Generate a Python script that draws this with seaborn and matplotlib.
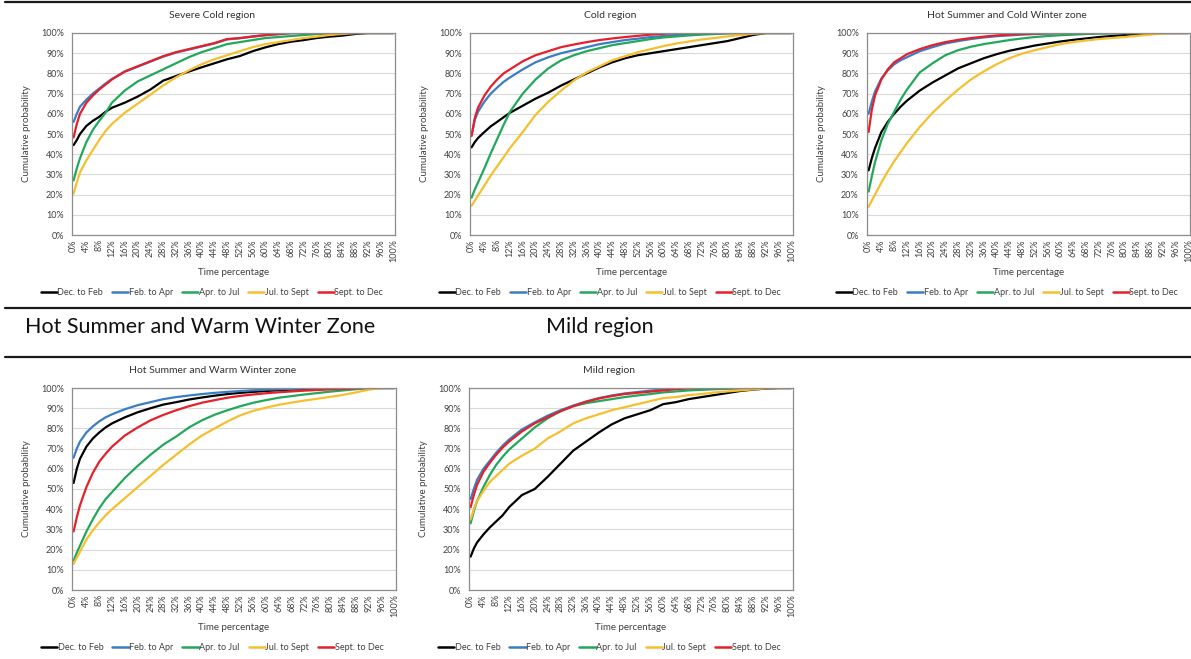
import numpy as np
import pandas as pd
import matplotlib
matplotlib.use("Agg")
import matplotlib.pyplot as plt
from matplotlib.lines import Line2D
import seaborn as sns

sns.set_theme(style="white")
plt.rcParams['font.family'] = ['Lato', 'DejaVu Sans']

# ---------------- data ----------------
time_pct = [0, 1, 2, 4, 6, 8, 10, 12, 16, 20, 24, 28, 32, 36, 40, 44, 48, 52, 56, 60,
            64, 68, 72, 76, 80, 84, 88, 92, 96, 100]
periods = ["Dec. to Feb", "Feb. to Apr", "Apr. to Jul", "Jul. to Sept", "Sept. to Dec"]
colors = ["#000000", "#3b7dc4", "#22a85a", "#f5bf2e", "#e5202a"]
x_ticks = list(range(0, 101, 4))
y_ticks = list(range(0, 101, 10))

# Severe Cold region
sc_dec_feb = [44.5, 47, 50, 54, 56.5, 58.5, 61, 63, 65.5, 68.5, 72, 76.4, 78.7, 80.9, 83, 85, 87, 88.6, 91, 92.9,
              94.5, 95.7, 96.5, 97.5, 98.2, 98.7, 99.5, 100, 100, 100]
sc_feb_apr = [56, 60, 63.5, 67, 70, 72.5, 75, 77.3, 80.8, 83.3, 85.8, 88.3, 90.3, 91.8, 93.3, 94.8, 96.8, 97.4, 98.2, 98.9,
              99.4, 99.9, 100, 100, 100, 100, 100, 100, 100, 100]
sc_apr_jul = [27, 33, 38, 46, 52, 56.5, 60.5, 65.5, 71.5, 76, 79, 82, 85, 88, 90.5, 92.5, 94.5, 95.5, 96.5, 97.5,
              98, 98.5, 99, 99.5, 99.7, 100, 100, 100, 100, 100]
sc_jul_sep = [20.5, 26, 31, 37, 42, 47, 51.5, 55, 60.5, 65, 69.5, 74, 78, 81.5, 84.5, 87, 89, 91, 93, 94.5,
              95.5, 96.5, 97.5, 98.2, 99, 99.5, 100, 100, 100, 100]
sc_sep_dec = [48.3, 55, 60, 65.5, 69, 72, 74.5, 77, 81, 83.5, 86, 88.5, 90.5, 92, 93.5, 95, 97, 97.5, 98.3, 99,
              99.5, 100, 100, 100, 100, 100, 100, 100, 100, 100]

# Cold region
c_dec_feb = [43.4, 46, 48, 51, 53.8, 56, 58.3, 60.5, 64, 67.5, 70.5, 74, 77, 80, 83, 85.5, 87.5, 89, 90, 91,
             92, 93, 94, 95, 96, 97.5, 99, 100, 100, 100]
c_feb_apr = [49.5, 57, 61, 66, 70, 73, 75.8, 78, 82, 85.5, 88, 90, 91.5, 93, 94.5, 95.5, 96.5, 97.2, 98, 98.5,
             99, 99.3, 99.6, 99.8, 100, 100, 100, 100, 100, 100]
c_apr_jul = [18.5, 22.5, 26, 33, 40.5, 47.5, 54.5, 61, 70, 77, 82.5, 86.5, 89, 91, 92.5, 94, 95, 96, 97, 97.8,
             98.3, 98.8, 99.2, 99.5, 99.8, 100, 100, 100, 100, 100]
c_jul_sep = [14.5, 17, 19.5, 24.5, 29.5, 34, 38.5, 43, 51, 59.5, 66, 71.5, 76.5, 80.5, 83.5, 86.5, 88.5, 90.5, 92, 93.5,
             94.8, 95.8, 96.8, 97.5, 98.3, 99, 99.6, 100, 100, 100]
c_sep_dec = [49, 58, 63, 69, 73.5, 77, 80, 82, 86, 89, 91, 93, 94.3, 95.5, 96.5, 97.3, 98, 98.6, 99.2, 99.6,
             100, 100, 100, 100, 100, 100, 100, 100, 100, 100]

# Hot Summer and Cold Winter zone
hscw_dec_feb = [32, 38, 43, 51, 56, 60, 63.5, 66.5, 71.5, 75.5, 79, 82.5, 85, 87.5, 89.5, 91.2, 92.5, 93.8, 94.8, 95.8,
                96.6, 97.3, 98, 98.5, 99, 99.5, 99.8, 100, 100, 100]
hscw_feb_apr = [60, 66, 71, 77.5, 81.5, 84.5, 86.5, 88, 91, 93, 94.8, 96, 97, 97.8, 98.4, 98.8, 99.2, 99.5, 99.7, 99.9,
                100, 100, 100, 100, 100, 100, 100, 100, 100, 100]
hscw_apr_jul = [21.5, 29, 36, 47, 55, 61, 67, 72, 80.5, 85, 89, 91.5, 93.2, 94.5, 95.5, 96.5, 97.3, 98, 98.5, 98.9,
                99.2, 99.5, 99.7, 99.8, 100, 100, 100, 100, 100, 100]
hscw_jul_sep = [14, 17, 20, 26, 31.5, 36.5, 41, 45.5, 53.5, 60.5, 66.5, 72, 77, 81, 84.5, 87.5, 89.8, 91.5, 93, 94.5,
                95.5, 96.3, 97, 97.5, 98, 98.6, 99.2, 99.8, 100, 100]
hscw_sep_dec = [51, 62, 69, 77, 82, 85.5, 87.5, 89.5, 92, 94, 95.5, 96.6, 97.5, 98.2, 98.8, 99.2, 99.5, 99.7, 99.9, 100,
                100, 100, 100, 100, 100, 100, 100, 100, 100, 100]

# Hot Summer and Warm Winter zone
hsww_dec_feb = [53, 60, 65, 71, 75, 78, 80.5, 82.5, 85.5, 88, 90, 91.8, 93, 94.3, 95.3, 96.2, 97, 97.6, 98.1, 98.5,
                98.9, 99.2, 99.5, 99.7, 99.9, 100, 100, 100, 100, 100]
hsww_feb_apr = [65.5, 70, 73.5, 78, 81, 83.5, 85.5, 87, 89.5, 91.5, 93, 94.5, 95.5, 96.3, 97, 97.6, 98.1, 98.5, 98.9, 99.2,
                99.4, 99.6, 99.8, 99.9, 100, 100, 100, 100, 100, 100]
hsww_apr_jul = [14.5, 18.5, 22, 29, 35, 40.5, 45, 48.5, 55.5, 61.5, 67, 72, 76, 80.5, 84, 86.8, 89, 91, 92.7, 94,
                95.2, 96, 96.8, 97.5, 98.2, 98.8, 99.4, 99.9, 100, 100]
hsww_jul_sep = [13, 16, 19, 25, 29.5, 33.5, 37, 40, 45.5, 51, 56.5, 62, 67, 72, 76.5, 80, 83.5, 86.5, 88.7, 90.3,
                91.7, 92.8, 93.8, 94.7, 95.6, 96.6, 97.8, 99.2, 100, 100]
hsww_sep_dec = [29, 36, 42, 51, 58, 63.5, 67.5, 71, 76.5, 80.5, 84, 86.7, 89, 91, 92.7, 94, 95.2, 96.1, 96.8, 97.4,
                97.9, 98.3, 98.7, 99, 99.3, 99.5, 99.8, 100, 100, 100]

# Mild region
m_dec_feb = [16.5, 20.5, 23.5, 27.5, 31, 34, 37, 41, 47, 50, 56, 62.5, 69, 73.5, 78, 82, 85, 87, 89, 92,
             93, 94.5, 95.5, 96.5, 97.5, 98.5, 99.2, 99.7, 100, 100]
m_feb_apr = [45, 50, 54.5, 60, 64, 68, 71.5, 74.5, 79.5, 83, 86.3, 89, 91.3, 93.3, 95, 96.3, 97.3, 98, 98.7, 99.3,
             99.7, 100, 100, 100, 100, 100, 100, 100, 100, 100]
m_apr_jul = [33, 39, 44, 51, 57, 62, 66, 69.5, 75, 80.5, 85, 88.5, 91, 92.5, 93.5, 94.5, 95.5, 96.3, 97, 97.8,
             98.3, 98.8, 99.1, 99.4, 99.6, 99.8, 100, 100, 100, 100]
m_jul_sep = [35, 40, 44, 49, 53.5, 56.5, 59.5, 62.5, 66.5, 70, 75, 78.5, 82.5, 85, 87, 89, 90.5, 92, 93.5, 95,
             95.5, 96.5, 97, 97.8, 98.3, 98.8, 99.3, 99.8, 100, 100]
m_sep_dec = [41, 47, 52, 58.5, 63, 67, 70.5, 73.5, 78.5, 82.5, 85.5, 88.5, 91, 93.2, 94.8, 96, 97, 97.6, 98.2, 98.8,
             99.4, 99.8, 100, 100, 100, 100, 100, 100, 100, 100]

charts = [
    ("Severe Cold region", [sc_dec_feb, sc_feb_apr, sc_apr_jul, sc_jul_sep, sc_sep_dec]),
    ("Cold region", [c_dec_feb, c_feb_apr, c_apr_jul, c_jul_sep, c_sep_dec]),
    ("Hot Summer and Cold Winter zone", [hscw_dec_feb, hscw_feb_apr, hscw_apr_jul, hscw_jul_sep, hscw_sep_dec]),
    ("Hot Summer and Warm Winter zone", [hsww_dec_feb, hsww_feb_apr, hsww_apr_jul, hsww_jul_sep, hsww_sep_dec]),
    ("Mild region", [m_dec_feb, m_feb_apr, m_apr_jul, m_jul_sep, m_sep_dec]),
]

W, H = 1191, 659
fig = plt.figure(figsize=(W / 100, H / 100), dpi=100)

# plot-area boxes in pixels: (left, top, right, bottom)
boxes = [(72, 33, 395, 235), (470, 33, 793, 235), (867, 33, 1190, 235),
         (72, 388, 396, 590), (469, 388, 793, 590)]

def px_axes(l, t, r, b):
    return fig.add_axes([l / W, 1 - b / H, (r - l) / W, (b - t) / H])

grid_c = "#d9d9d9"
spine_c = "#8c8c8c"
txt_c = "#404040"

for (title, series), box in zip(charts, boxes):
    ax = px_axes(*box)
    df = pd.DataFrame({
        "Time percentage": np.tile(time_pct, len(periods)),
        "Cumulative probability": np.concatenate(series),
        "Period": np.repeat(periods, len(time_pct)),
    })
    sns.lineplot(data=df, x="Time percentage", y="Cumulative probability", hue="Period",
                 hue_order=periods, palette=colors, linewidth=1.6, ax=ax, legend=True)
    ax.set_xlim(-0.5, 100.5)
    ax.set_ylim(0, 100)
    ax.set_xticks(x_ticks)
    ax.set_xticklabels([f"{v}%" for v in x_ticks], rotation=90, fontsize=6.5, color=txt_c)
    ax.set_yticks(y_ticks)
    ax.set_yticklabels([f"{v}%" for v in y_ticks], fontsize=6.5, color=txt_c)
    ax.tick_params(axis="both", length=0)
    ax.tick_params(axis="y", pad=6)
    ax.tick_params(axis="x", pad=3)
    ax.yaxis.grid(True, color=grid_c, linewidth=0.8)
    ax.xaxis.grid(False)
    ax.set_axisbelow(True)
    for s in ax.spines.values():
        s.set_color(spine_c)
        s.set_linewidth(0.9)
    ax.set_xlabel("Time percentage", fontsize=7, color=txt_c, labelpad=4)
    ax.set_ylabel("Cumulative probability", fontsize=7, color=txt_c, labelpad=7)
    ax.text(0.433, 1.085, title, transform=ax.transAxes, ha="center", va="center",
            fontsize=7.5, color="#333333")
    leg = ax.legend(loc="center", bbox_to_anchor=(0.433, -0.287), ncol=5, frameon=False,
                    fontsize=6.5, handlelength=1.8, handletextpad=0.05, columnspacing=1.0,
                    labelcolor=txt_c)
    for h in leg.get_lines():
        h.set_linewidth(1.8)

# horizontal rules and section headings
for ypx in (2, 308, 357):
    fig.add_artist(Line2D([5 / W, 1.0], [1 - ypx / H, 1 - ypx / H], transform=fig.transFigure,
                          color="#1a1a1a", linewidth=1.6))
fig.text(25 / W, 1 - 327 / H, "Hot Summer and Warm Winter Zone", ha="left", va="center",
         fontsize=15.5, color="#111111")
fig.text(600 / W, 1 - 327 / H, "Mild region", ha="center", va="center",
         fontsize=15.5, color="#111111")

fig.savefig("out.png", dpi=100)
